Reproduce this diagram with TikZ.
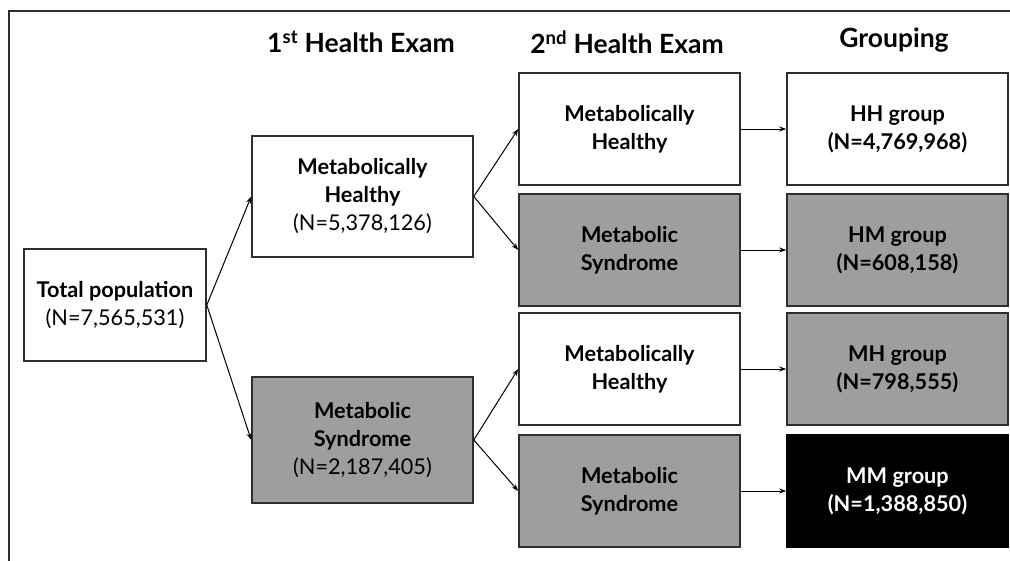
\documentclass[tikz,border=0pt]{standalone}
\usepackage{fontspec}
\setmainfont{Lato}
\usetikzlibrary{arrows.meta}
\definecolor{boxgray}{HTML}{9E9E9E}
\definecolor{edge}{HTML}{2E2E2E}
\begin{document}
\begin{tikzpicture}[x=1pt,y=-1pt,
  box/.style={draw=edge,line width=1.6pt,rectangle,align=center,inner sep=0pt,
    font=\fontsize{21.7}{28}\selectfont\bfseries,text=black},
  whitebox/.style={box,fill=white},
  graybox/.style={box,fill=boxgray},
  blackbox/.style={box,fill=black,draw=black,text=white},
  head/.style={font=\fontsize{26.5}{30}\selectfont\bfseries,inner sep=0pt},
  arr/.style={line width=1pt,-{Stealth[length=7pt,width=5pt]}}]
\useasboundingbox (0,0) rectangle (1010,560);
\draw[edge,line width=2pt] (9,11) rectangle (1030,580);
% headers
\node[head] (h1) at (361,42) {1\textsuperscript{st} Health Exam};
\node[head] (h2) at (627,42) {2\textsuperscript{nd} Health Exam};
\node[head] (h3) at (894,40) {Grouping};
% column 0
\node[whitebox,minimum width=182pt,minimum height=112pt] (tot) at (115,305)
  {Total population\\\mdseries(N=7,565,531)};
% column 1
\node[whitebox,minimum width=221pt,minimum height=121pt] (mh1) at (362.5,196.5)
  {Metabolically\\Healthy\\\mdseries(N=5,378,126)};
\node[graybox,minimum width=221pt,minimum height=126pt] (ms1) at (362.5,440)
  {Metabolic\\Syndrome\\\mdseries(N=2,187,405)};
% column 2
\node[whitebox,minimum width=221pt,minimum height=112pt] (a1) at (629.5,129) {Metabolically\\Healthy};
\node[graybox,minimum width=221pt,minimum height=112pt] (a2) at (629.5,250) {Metabolic\\Syndrome};
\node[whitebox,minimum width=221pt,minimum height=112pt] (a3) at (629.5,369) {Metabolically\\Healthy};
\node[graybox,minimum width=221pt,minimum height=112pt] (a4) at (629.5,491) {Metabolic\\Syndrome};
% column 3
\node[whitebox,minimum width=221pt,minimum height=112pt] (g1) at (897.5,129) {HH group\\(N=4,769,968)};
\node[graybox,minimum width=221pt,minimum height=112pt] (g2) at (897.5,250) {HM group\\(N=608,158)};
\node[graybox,minimum width=221pt,minimum height=112pt] (g3) at (897.5,369) {MH group\\(N=798,555)};
\node[blackbox,minimum width=221pt,minimum height=112pt] (g4) at (897.5,491) {MM group\\(N=1,388,850)};
% arrows
\draw[arr] (tot.east) -- (mh1.west);
\draw[arr] (tot.east) -- (ms1.west);
\draw[arr] (mh1.east) -- (a1.west);
\draw[arr] (mh1.east) -- (a2.west);
\draw[arr] (ms1.east) -- (a3.west);
\draw[arr] (ms1.east) -- (a4.west);
\draw[arr] (a1.east) -- (g1.west);
\draw[arr] (a2.east) -- (g2.west);
\draw[arr] (a3.east) -- (g3.west);
\draw[arr] (a4.east) -- (g4.west);
\end{tikzpicture}
\end{document}
